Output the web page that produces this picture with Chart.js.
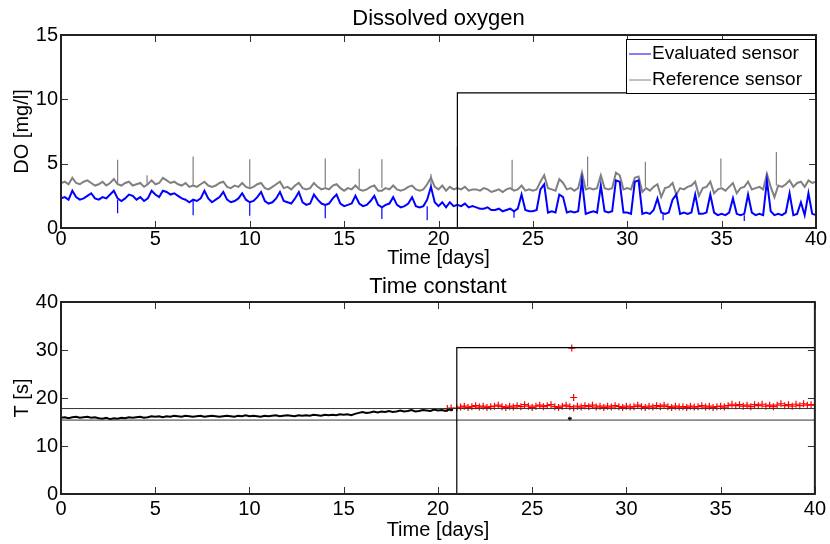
<!DOCTYPE html>
<html>
<head>
<meta charset="utf-8">
<script src="https://cdn.jsdelivr.net/npm/chart.js@4.4.0/dist/chart.umd.min.js"></script>
<style>
  body { margin: 0; background: #fff; }
  canvas { display: block; }
</style>
</head>
<body>
<canvas id="doChart" width="830" height="272"></canvas>
<canvas id="tcChart" width="830" height="272"></canvas>
<script>
// sampling of the DO and time-constant series, in days
const sampleStep = 0.2;
const dayTicks = [0, 5, 10, 15, 20, 25, 30, 35, 40];
const doTicks = [0, 5, 10, 15];
const tcTicks = [0, 10, 20, 30, 40];

// DO [mg/l], evaluated sensor, day 0 .. 40
const evalDO = [
  2.3, 2.4, 2.2, 2.9, 2.4,  2.2, 2.3, 2.5, 2.7, 2.3,  2.2, 2.4, 2.3, 2.6, 2.9,  2.3, 2.1, 2.3, 2.6, 2.5,
  2.2, 2.4, 2.1, 2.3, 2.9,  2.6, 2.4, 2.9, 2.8, 2.6,  2.7, 2.5, 2.3, 2.2, 2.0,  2.2, 2.1, 2.3, 2.9, 2.3,
  2.0, 2.2, 2.4, 2.8, 2.2,  2.0, 2.1, 2.3, 2.7, 2.2,  2.0, 2.1, 2.4, 2.8, 2.1,  1.9, 2.0, 2.3, 2.8, 2.1,
  2.0, 1.9, 2.3, 2.8, 2.0,  1.8, 1.9, 2.6, 2.2, 1.9,  1.8, 1.9, 2.3, 2.6, 1.9,  1.7, 1.8, 1.9, 2.5, 1.9,
  1.7, 1.8, 2.1, 2.5, 1.8,  1.6, 1.8, 1.9, 2.4, 1.8,  1.6, 1.7, 1.9, 2.4, 1.7,  1.6, 1.7, 2.2, 3.2, 2.0,
  1.7, 2.0, 1.6, 2.0, 1.7,  1.8, 1.7, 1.9, 1.6, 1.7,  1.6, 1.5, 1.5, 1.6, 1.4,  1.4, 1.5, 1.3, 1.4, 1.5,
  1.3, 1.5, 2.6, 1.4, 1.3,  1.3, 1.4, 3.0, 3.4, 1.2,  1.3, 1.2, 2.6, 2.4, 1.2,  1.3, 1.2, 1.3, 3.7, 1.1,
  1.2, 1.3, 1.2, 3.3, 1.3,  1.2, 1.3, 3.7, 3.6, 1.2,  1.2, 1.1, 3.6, 3.7, 1.1,  1.2, 1.1, 1.4, 2.3, 1.2,
  1.1, 1.2, 2.2, 2.6, 1.1,  1.2, 1.1, 1.2, 2.6, 1.1,  1.1, 1.2, 2.6, 1.2, 1.0,  1.1, 1.0, 1.2, 2.3, 1.1,
  1.0, 1.1, 2.6, 1.2, 1.0,  1.1, 1.0, 3.7, 1.3, 1.0,  1.1, 1.0, 1.2, 2.7, 1.0,  1.1, 2.0, 1.0, 2.7, 1.1,
  1.0
];

// DO [mg/l], reference sensor, day 0 .. 40
const refDO = [
  3.5, 3.6, 3.4, 3.9, 3.5,  3.4, 3.6, 3.7, 3.5, 3.3,  3.4, 3.6, 3.3, 3.5, 3.8,  3.4, 3.3, 3.5, 3.6, 3.3,
  3.4, 3.5, 3.2, 3.4, 3.7,  3.4, 3.5, 3.9, 3.7, 3.5,  3.6, 3.4, 3.3, 3.5, 3.2,  3.3, 3.2, 3.4, 3.6, 3.3,
  3.2, 3.3, 3.5, 3.6, 3.2,  3.1, 3.3, 3.2, 3.5, 3.2,  3.1, 3.2, 3.4, 3.5, 3.1,  3.0, 3.2, 3.4, 3.6, 3.1,
  3.2, 3.0, 3.3, 3.5, 3.1,  3.0, 3.1, 3.5, 3.2, 3.0,  3.1, 3.0, 3.3, 3.4, 3.1,  2.9, 3.1, 3.0, 3.3, 3.0,
  2.9, 3.0, 3.2, 3.3, 2.9,  2.9, 3.1, 3.0, 3.3, 3.0,  2.9, 3.0, 3.2, 3.3, 3.0,  2.9, 3.0, 3.4, 3.9, 3.2,
  3.0, 3.3, 2.9, 3.2, 3.0,  3.1, 3.0, 3.2, 2.9, 3.0,  3.0, 2.9, 3.1, 3.0, 2.8,  2.9, 3.0, 2.8, 3.0, 3.1,
  2.9, 3.0, 3.3, 2.9, 3.0,  2.9, 3.0, 3.6, 4.1, 3.1,  3.0, 2.9, 3.8, 3.5, 3.0,  3.1, 2.9, 3.1, 4.3, 3.0,
  3.1, 3.0, 3.1, 4.1, 3.1,  3.0, 3.1, 4.3, 4.1, 3.0,  3.1, 3.0, 3.9, 4.0, 2.8,  3.1, 2.9, 3.2, 3.4, 2.4,
  3.1, 3.2, 3.5, 2.6, 3.1,  3.0, 3.2, 3.3, 3.6, 2.5,  3.1, 3.2, 3.6, 2.7, 3.0,  3.1, 2.9, 3.2, 3.5, 2.7,
  3.1, 3.2, 3.6, 3.0, 3.1,  3.2, 3.0, 4.2, 3.2, 2.4,  3.3, 3.2, 3.4, 3.7, 3.2,  3.5, 3.6, 3.2, 3.7, 3.5,
  3.6
];

// short spikes: day, level at foot, level at tip
const refSpikeDays = [3.0, 4.56, 7.0, 10.0, 14.0, 15.8, 17.0, 19.6, 21.0, 23.9, 27.9, 30.96, 34.96, 37.9];
const refSpikeFoot = [3.4, 3.4, 3.3, 3.2, 3.2, 3.1, 3.1, 3.3, 3.0, 3.0, 3.2, 3.2, 3.2, 3.3];
const refSpikeTip = [5.3, 4.1, 5.55, 5.35, 5.4, 4.6, 5.35, 4.2, 6.3, 5.3, 5.55, 5.15, 5.4, 5.9];
const evalSpikeDays = [3.0, 7.0, 10.0, 14.0, 17.0, 19.4, 24.0, 31.9, 36.2];
const evalSpikeFoot = [2.2, 2.1, 2.0, 1.8, 1.7, 1.7, 1.4, 1.1, 1.0];
const evalSpikeTip = [1.15, 1.0, 0.95, 0.75, 0.7, 0.6, 0.8, 0.6, 0.55];

// limit lines
const stepDays = [21, 21, 40];
const doLimit = [0, 10.5, 10.5];
const tcLimit = [0, 30.5, 30.5];
const bandDays = [0, 40];
const tcUpper = [17.8, 17.8];
const tcLower = [15.4, 15.4];

// time constant T [s]: black before day 21, red after
const blackStart = 0;
const tcBlack = [
  15.9, 16.0, 15.8, 16.0, 16.1,  15.9, 16.0, 16.1, 15.9, 16.0,  15.8, 15.7, 15.9, 15.6, 15.8,
  15.7, 15.9, 15.8, 16.0, 15.9,  16.0, 16.1, 15.9, 16.0, 16.2,  16.1, 16.2, 16.0, 16.2, 16.1,
  16.3, 16.2, 16.1, 16.3, 16.2,  16.1, 16.2, 16.3, 16.1, 16.2,  16.3, 16.2, 16.1, 16.2, 16.3,
  16.2, 16.1, 16.3, 16.2, 16.4,  16.2, 16.3, 16.2, 16.1, 16.3,  16.2, 16.3, 16.4, 16.2, 16.3,
  16.4, 16.3, 16.2, 16.4, 16.3,  16.4, 16.3, 16.5, 16.4, 16.3,  16.5, 16.4, 16.5, 16.4, 16.6,
  16.5, 16.6, 16.4, 16.7, 16.9,  17.1, 16.9, 17.0, 17.2, 17.0,  17.2, 17.1, 17.3, 17.1, 17.2,
  17.4, 17.2, 17.3, 17.5, 17.2,  17.3, 17.5, 17.4, 17.3, 17.6,  17.4, 17.5, 17.3, 17.6, 17.5
];
const redStart = 21;
const tcRed = [
  17.9, 18.1, 18.3, 18.0, 18.2,  18.4, 18.1, 18.3, 18.0, 18.2,  18.3, 18.5, 18.2, 18.0, 18.3,
  18.1, 18.4, 18.2, 18.6, 18.3,  18.0, 18.3, 18.5, 18.2, 18.4,  18.6, 18.2, 18.0, 18.3, 18.5,
  18.2, 17.9, 18.3, 18.1, 18.4,  18.2, 18.5, 18.1, 18.3, 18.0,  18.3, 18.1, 18.4, 18.2, 18.0,
  18.3, 18.1, 18.2, 18.5, 18.2,  18.0, 18.3, 18.1, 18.4, 18.2,  18.5, 18.2, 18.0, 18.3, 18.1,
  18.2, 18.0, 18.3, 18.1, 18.2,  18.4, 18.1, 18.3, 18.0, 18.2,  18.3, 18.1, 18.4, 18.7, 18.4,
  18.6, 18.3, 18.5, 18.2, 18.6,  18.4, 18.7, 18.3, 18.5, 18.2,  18.5, 18.8, 18.4, 18.6, 18.3,
  18.7, 18.4, 18.8, 18.5, 18.6,  18.5
];
const redOutDays = [20.5, 20.7, 27.1, 27.2];
const redOutT = [17.8, 17.9, 30.4, 20.1];
const blackOutDays = [27.0];
const blackOutT = [15.7];

const FONT = "'Liberation Sans', Arial, sans-serif";

function series(start, vals) {
  return vals.map((v, i) => ({x: +(start + i * sampleStep).toFixed(2), y: v}));
}
function pairs(xs, ys) {
  return xs.map((x, i) => ({x: x, y: ys[i]}));
}
function spikes(days, foot, tip) {
  return days.flatMap((d, i) => [{x: d, y: foot[i]}, {x: d, y: tip[i]}, {x: d, y: null}]);
}

// MATLAB-like box, inward ticks, title and legend
const axesBox = {
  id: 'axesBox',
  afterDraw(chart, args, opts) {
    const { ctx, chartArea: a, scales: { x, y } } = chart;
    const seg = (x1, y1, x2, y2) => { ctx.beginPath(); ctx.moveTo(x1, y1); ctx.lineTo(x2, y2); ctx.stroke(); };
    ctx.save();
    ctx.strokeStyle = '#333';
    ctx.lineWidth = 1;
    dayTicks.forEach(v => {
      const px = Math.round(x.getPixelForValue(v)) + 0.5;
      seg(px, a.bottom, px, a.bottom - 7);
      seg(px, a.top, px, a.top + 7);
    });
    opts.yTicks.forEach(v => {
      const py = Math.round(y.getPixelForValue(v)) + 0.5;
      seg(a.left, py, a.left + 7, py);
      seg(a.right, py, a.right - 7, py);
    });
    ctx.lineWidth = 2;
    ctx.strokeStyle = '#222';
    ctx.strokeRect(a.left, a.top, a.right - a.left, a.bottom - a.top);

    ctx.fillStyle = '#000';
    ctx.font = '22px ' + FONT;
    ctx.textAlign = 'center';
    ctx.textBaseline = 'middle';
    ctx.fillText(opts.title, (a.left + a.right) / 2, opts.titleY);

    if (opts.legend) {
      const lx = a.right - 190, ly = a.top + 4, lw = 189, lh = 54;
      ctx.fillStyle = '#fff';
      ctx.fillRect(lx, ly, lw, lh);
      ctx.lineWidth = 1;
      ctx.strokeStyle = '#000';
      ctx.strokeRect(lx + 0.5, ly + 0.5, lw, lh);
      ctx.font = '19px ' + FONT;
      ctx.textAlign = 'left';
      opts.legend.forEach((item, i) => {
        const cy = ly + 15 + i * 26;
        ctx.strokeStyle = item.color;
        seg(lx + 3, cy, lx + 25, cy);
        ctx.fillStyle = '#000';
        ctx.fillText(item.label, lx + 26, cy);
      });
    }
    ctx.restore();
  }
};

function axisOptions(yMin, yMax, yStep, yTitle, xHeight, xPad) {
  return {
    x: {
      type: 'linear', min: 0, max: 40,
      grid: { display: false, drawTicks: false }, border: { display: false },
      ticks: { stepSize: 5, color: '#000', padding: xPad, maxRotation: 0, font: { family: FONT, size: 20, lineHeight: 1.1 } },
      title: { display: true, text: 'Time [days]', color: '#000', padding: { top: 0, bottom: 2 }, font: { family: FONT, size: 20 } },
      afterFit: s => { s.height = xHeight; }
    },
    y: {
      min: yMin, max: yMax,
      grid: { display: false, drawTicks: false }, border: { display: false },
      ticks: { stepSize: yStep, color: '#000', padding: 3, font: { family: FONT, size: 20 } },
      title: { display: true, text: yTitle, color: '#000', padding: { top: 10, bottom: 0 }, font: { family: FONT, size: 20 } },
      afterFit: s => { s.width = 61; }
    }
  };
}

new Chart(document.getElementById('doChart'), {
  type: 'line',
  data: {
    datasets: [
      { data: pairs(stepDays, doLimit), borderColor: '#000', borderWidth: 1.2, pointRadius: 0 },
      { data: series(0, evalDO), borderColor: '#0000ff', borderWidth: 2, pointRadius: 0 },
      { data: spikes(evalSpikeDays, evalSpikeFoot, evalSpikeTip), borderColor: '#0000ff', borderWidth: 1.2, pointRadius: 0, spanGaps: false },
      { data: series(0, refDO), borderColor: '#808080', borderWidth: 2, pointRadius: 0 },
      { data: spikes(refSpikeDays, refSpikeFoot, refSpikeTip), borderColor: '#808080', borderWidth: 1.2, pointRadius: 0, spanGaps: false }
    ]
  },
  options: {
    responsive: false, animation: false, devicePixelRatio: 1,
    layout: { padding: { top: 35, right: 14, left: 0, bottom: 0 } },
    scales: axisOptions(0, 15, 5, 'DO [mg/l]', 44, 0),
    plugins: {
      legend: { display: false }, tooltip: { enabled: false },
      axesBox: {
        title: 'Dissolved oxygen', titleY: 19, yTicks: doTicks,
        legend: [ { label: 'Evaluated sensor', color: '#0000ff' }, { label: 'Reference sensor', color: '#808080' } ]
      }
    }
  },
  plugins: [axesBox]
});

new Chart(document.getElementById('tcChart'), {
  type: 'line',
  data: {
    datasets: [
      { data: pairs(stepDays, tcLimit), borderColor: '#000', borderWidth: 1.2, pointRadius: 0 },
      { data: pairs(bandDays, tcUpper), borderColor: '#333', borderWidth: 1, pointRadius: 0 },
      { data: pairs(bandDays, tcLower), borderColor: '#333', borderWidth: 1, pointRadius: 0 },
      { data: series(blackStart, tcBlack), borderColor: '#000', borderWidth: 2, pointRadius: 0 },
      { data: pairs(blackOutDays, blackOutT), showLine: false, pointStyle: 'star', pointRadius: 2, borderColor: '#000', borderWidth: 1 },
      { data: series(redStart, tcRed), showLine: false, pointStyle: 'cross', pointRadius: 3.5, borderColor: '#ff0000', borderWidth: 1.2 },
      { data: pairs(redOutDays, redOutT), showLine: false, pointStyle: 'cross', pointRadius: 3.5, borderColor: '#ff0000', borderWidth: 1.2 }
    ]
  },
  options: {
    responsive: false, animation: false, devicePixelRatio: 1,
    layout: { padding: { top: 30, right: 14, left: 0, bottom: 0 } },
    scales: axisOptions(0, 40, 10, 'T [s]', 50, 4),
    plugins: {
      legend: { display: false }, tooltip: { enabled: false },
      axesBox: { title: 'Time constant', titleY: 15, yTicks: tcTicks, legend: null }
    }
  },
  plugins: [axesBox]
});
</script>
</body>
</html>
